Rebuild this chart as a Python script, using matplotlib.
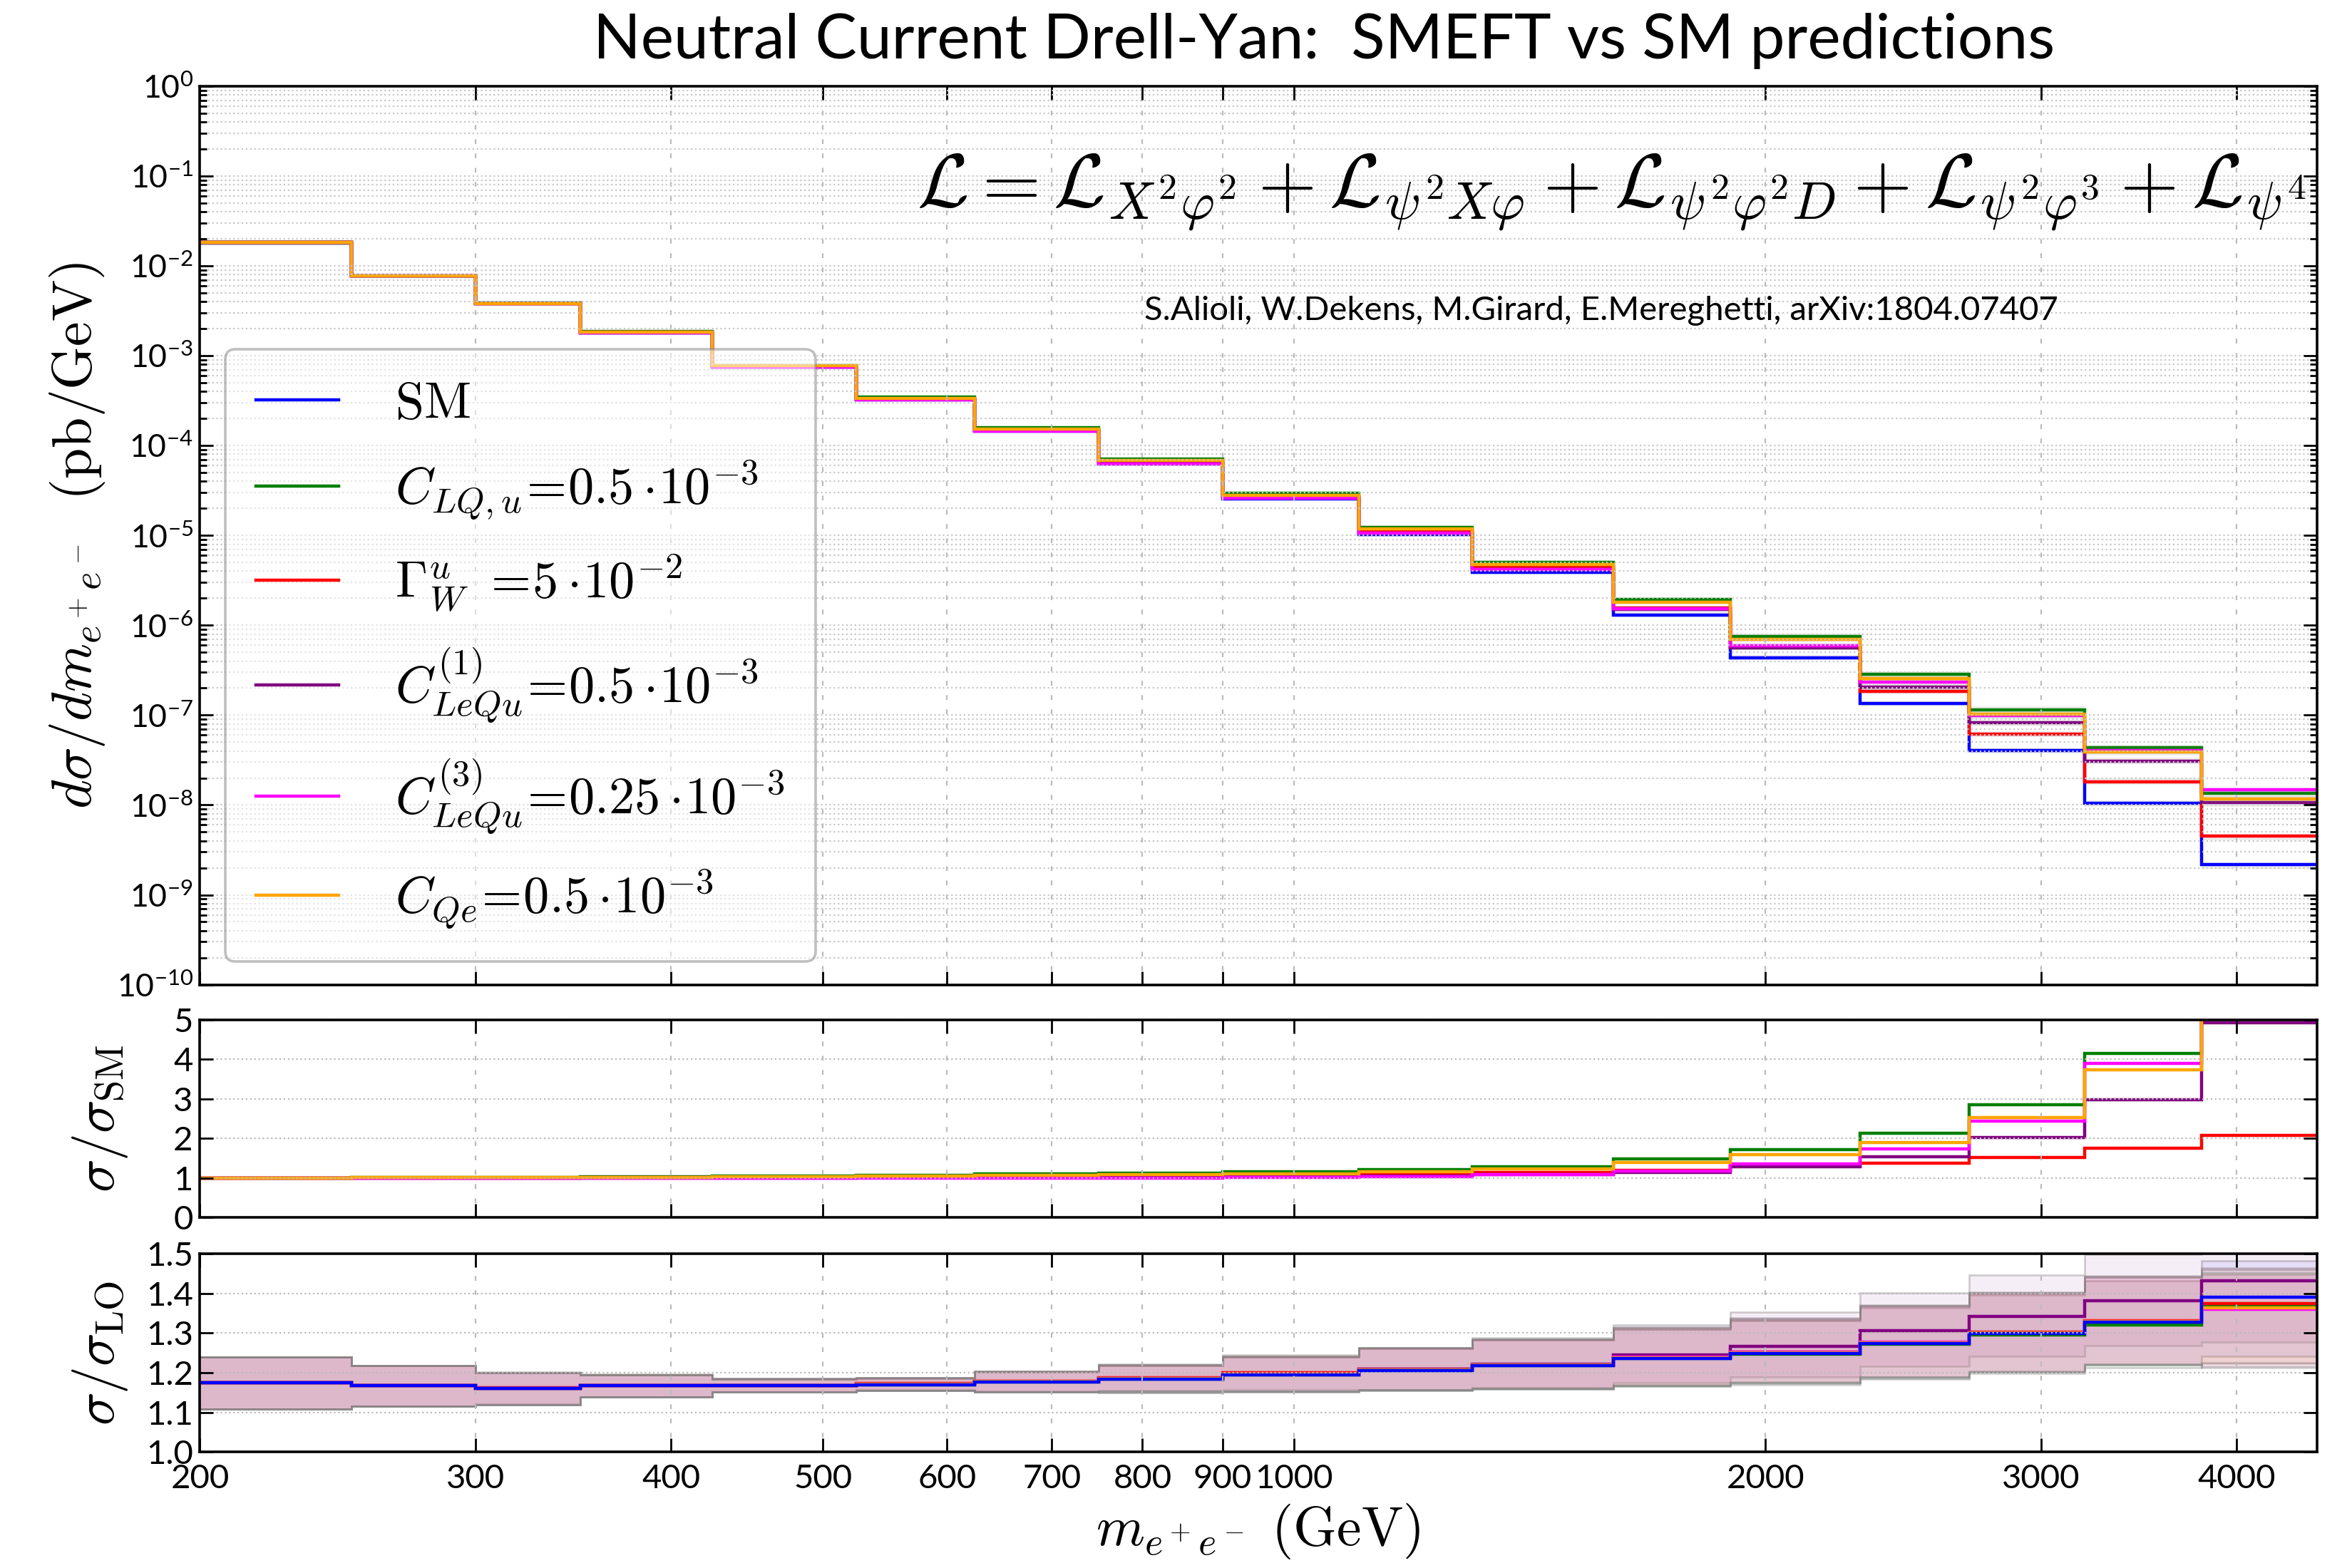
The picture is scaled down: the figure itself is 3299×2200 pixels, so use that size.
import matplotlib
matplotlib.use('Agg')
import matplotlib.pyplot as plt
import numpy as np
from matplotlib.ticker import FuncFormatter, LogLocator, FixedLocator, NullLocator, NullFormatter

plt.rcParams['font.family'] = ['Lato', 'DejaVu Sans']
plt.rcParams['mathtext.fontset'] = 'cm'

# bin edges in m_ee (GeV)
edges = [200, 250, 300, 350, 425, 525, 625, 750, 900, 1100, 1300, 1600, 1900, 2300, 2700, 3200, 3800, 4500]

# SM cross section, pb/GeV
sm_xsec = [1.82e-2, 7.7e-3, 3.8e-3, 1.8e-3, 7.5e-4, 3.25e-4, 1.45e-4, 6.3e-5, 2.56e-5,
           1.02e-5, 3.87e-6, 1.31e-6, 4.38e-7, 1.34e-7, 4.05e-8, 1.04e-8, 2.17e-9]

# sigma / sigma_SM
ratio_sm = [1.0] * 17
ratio_lqu = [1.00, 1.01, 1.02, 1.03, 1.04, 1.07, 1.10, 1.12, 1.15, 1.21, 1.29, 1.48, 1.72, 2.13, 2.85, 4.15, 6.2]
ratio_gw = [1.00, 1.00, 1.00, 1.01, 1.01, 1.02, 1.03, 1.04, 1.06, 1.09, 1.14, 1.19, 1.30, 1.37, 1.52, 1.75, 2.08]
ratio_lequ1 = [1.00, 1.00, 1.00, 1.00, 1.00, 1.01, 1.01, 1.02, 1.03, 1.05, 1.09, 1.14, 1.28, 1.53, 2.02, 2.98, 4.93]
ratio_lequ3 = [1.00, 1.00, 1.00, 1.00, 1.00, 1.00, 1.00, 1.00, 1.02, 1.035, 1.08, 1.18, 1.36, 1.73, 2.43, 3.90, 6.8]
ratio_qe = [1.00, 1.01, 1.01, 1.02, 1.03, 1.04, 1.06, 1.08, 1.10, 1.16, 1.23, 1.39, 1.59, 1.90, 2.52, 3.73, 5.4]

# sigma / sigma_LO (NLO K-factors)
kfac_sm = [1.175, 1.168, 1.161, 1.167, 1.167, 1.170, 1.177, 1.183, 1.195, 1.205, 1.218, 1.235, 1.248, 1.273, 1.299, 1.328, 1.391]
kfac_lqu = [1.175, 1.168, 1.161, 1.167, 1.167, 1.170, 1.177, 1.183, 1.195, 1.205, 1.218, 1.235, 1.246, 1.271, 1.295, 1.321, 1.370]
kfac_gw = [1.175, 1.168, 1.162, 1.168, 1.168, 1.172, 1.179, 1.188, 1.200, 1.208, 1.220, 1.238, 1.251, 1.276, 1.302, 1.331, 1.374]
kfac_lequ1 = [1.175, 1.168, 1.161, 1.167, 1.168, 1.171, 1.178, 1.185, 1.197, 1.208, 1.222, 1.245, 1.266, 1.305, 1.342, 1.381, 1.431]
kfac_lequ3 = [1.175, 1.168, 1.161, 1.167, 1.168, 1.171, 1.178, 1.186, 1.197, 1.207, 1.220, 1.240, 1.252, 1.277, 1.300, 1.330, 1.359]
kfac_qe = [1.175, 1.168, 1.161, 1.167, 1.167, 1.171, 1.178, 1.186, 1.197, 1.207, 1.220, 1.238, 1.250, 1.276, 1.300, 1.329, 1.363]

# scale uncertainty band of the SM K-factor
kband_hi = [1.239, 1.218, 1.200, 1.195, 1.184, 1.186, 1.202, 1.217, 1.239, 1.260, 1.283, 1.310, 1.333, 1.366, 1.400, 1.440, 1.482]
kband_lo = [1.108, 1.116, 1.119, 1.138, 1.151, 1.154, 1.151, 1.150, 1.152, 1.154, 1.159, 1.165, 1.172, 1.186, 1.201, 1.219, 1.241]

labels = [r'$\mathrm{SM}$',
          r'$C_{LQ,u}\!=\!0.5\cdot\!10^{-3}$',
          r'$\Gamma^{u}_{W}\ =\!5\cdot\!10^{-2}$',
          r'$C^{(1)}_{LeQu}\!=\!0.5\cdot\!10^{-3}$',
          r'$C^{(3)}_{LeQu}\!=\!0.25\cdot\!10^{-3}$',
          r'$C_{Qe}\!=\!0.5\cdot\!10^{-3}$']
colors = ['blue', 'green', 'red', 'purple', 'magenta', 'orange']
ratios = [ratio_sm, ratio_lqu, ratio_gw, ratio_lequ1, ratio_lequ3, ratio_qe]
kfacs = [kfac_sm, kfac_lqu, kfac_gw, kfac_lequ1, kfac_lequ3, kfac_qe]

sm = np.array(sm_xsec)
rel_hi = np.array(kband_hi) / np.array(kfac_sm)
rel_lo = np.array(kband_lo) / np.array(kfac_sm)

fig = plt.figure(figsize=(16.495, 11), dpi=200)
ax1 = fig.add_axes([0.085, 0.372, 0.9, 0.573])
ax2 = fig.add_axes([0.085, 0.2236, 0.9, 0.1259], sharex=ax1)
ax3 = fig.add_axes([0.085, 0.074, 0.9, 0.1265], sharex=ax1)

# top: differential cross sections
for r, c, lab in zip(ratios, colors, labels):
    v = sm * np.array(r)
    ax1.stairs(v * rel_hi, edges, baseline=v * rel_lo, fill=True, color='gray', alpha=0.15, lw=0)
    ax1.stairs(v, edges, baseline=None, color=c, lw=1.6, label=lab)

# middle: ratio to SM (SM itself not drawn)
for r, c in zip(ratios[1:], colors[1:]):
    ax2.stairs(r, edges, baseline=None, color=c, lw=1.6)

# bottom: ratio to LO, with scale bands
for k, c in zip(kfacs, colors):
    k = np.array(k)
    ax3.stairs(k * rel_hi, edges, baseline=k * rel_lo, fill=True, color=c, alpha=0.065, lw=0)
    ax3.stairs(k * rel_hi, edges, baseline=None, color='gray', alpha=0.35, lw=1)
    ax3.stairs(k * rel_lo, edges, baseline=None, color='gray', alpha=0.35, lw=1)
for k, c in list(zip(kfacs, colors))[1:] + [(kfacs[0], colors[0])]:
    ax3.stairs(k, edges, baseline=None, color=c, lw=1.6)

xt = [200, 300, 400, 500, 600, 700, 800, 900, 1000, 2000, 3000, 4000]
for ax in (ax1, ax2, ax3):
    ax.set_xscale('log')
    ax.set_xlim(200, 4500)
    ax.xaxis.set_major_locator(FixedLocator(xt))
    ax.xaxis.set_minor_locator(NullLocator())
    ax.xaxis.set_minor_formatter(NullFormatter())
    ax.tick_params(which='both', direction='in', top=True, right=True, width=1)
    ax.tick_params(which='major', length=7)
    ax.tick_params(which='minor', length=3.5)
    ax.grid(True, axis='x', which='major', color='#bbbbbb', ls=(0, (3, 6)), lw=0.8)
    for s in ax.spines.values():
        s.set_linewidth(1.3)

ax1.set_yscale('log')
ax1.set_ylim(1e-10, 1)
ax1.yaxis.set_major_locator(LogLocator(base=10, numticks=20))
ax1.yaxis.set_minor_locator(LogLocator(base=10, subs=np.arange(2, 10), numticks=20))
ax1.yaxis.set_major_formatter(FuncFormatter(lambda v, p: r'$\mathregular{10^{%d}}$' % int(round(np.log10(v)))))
ax1.grid(True, axis='y', which='both', color='#c8c8c8', ls=':', lw=0.8)
ax1.tick_params(axis='y', labelsize=16)
plt.setp(ax1.get_xticklabels(), visible=False)

ax2.set_ylim(0, 5)
ax2.set_yticks([0, 1, 2, 3, 4, 5])
ax2.grid(True, axis='y', color='#bbbbbb', ls=':', lw=0.8)
ax2.tick_params(axis='y', labelsize=17)
plt.setp(ax2.get_xticklabels(), visible=False)

ax3.set_ylim(1.0, 1.5)
ax3.set_yticks([1.0, 1.1, 1.2, 1.3, 1.4, 1.5])
ax3.set_yticklabels(['1.0', '1.1', '1.2', '1.3', '1.4', '1.5'])
ax3.grid(True, axis='y', color='#bbbbbb', ls=':', lw=0.8)
ax3.tick_params(axis='y', labelsize=17)
ax3.set_xticklabels([str(t) for t in xt])
ax3.tick_params(axis='x', labelsize=17, pad=6)

ax1.set_ylabel(r'$d\sigma/dm_{e^+e^-}\ \ \mathrm{(pb/GeV)}$', fontsize=28)
ax1.yaxis.set_label_coords(-0.044, 0.5)
ax2.set_ylabel(r'$\sigma/\sigma_{\mathrm{SM}}$', fontsize=28)
ax2.yaxis.set_label_coords(-0.033, 0.5)
ax3.set_ylabel(r'$\sigma/\sigma_{\mathrm{LO}}$', fontsize=28)
ax3.yaxis.set_label_coords(-0.033, 0.5)
ax3.set_xlabel(r'$m_{e^+e^-}\ \mathrm{(GeV)}$', fontsize=28)
ax3.xaxis.set_label_coords(0.5, -0.25)

leg = ax1.legend(loc='upper left', bbox_to_anchor=(0.012, 0.707), borderaxespad=0,
                 fontsize=26, handlelength=1.6, handletextpad=1.1, labelspacing=0.62,
                 borderpad=0.6, fancybox=True, framealpha=0.5, edgecolor='gray')
leg.get_frame().set_linewidth(1.3)
for l in leg.get_lines():
    l.set_linewidth(1.6)

ax1.text(0.995, 0.882,
         r'$\mathcal{L} = \mathcal{L}_{X^2\varphi^2} + \mathcal{L}_{\psi^2 X\varphi} + '
         r'\mathcal{L}_{\psi^2\varphi^2 D} + \mathcal{L}_{\psi^2\varphi^3} + \mathcal{L}_{\psi^4}$',
         transform=ax1.transAxes, ha='right', va='center', fontsize=38)
ax1.text(0.662, 0.750, 'S.Alioli, W.Dekens, M.Girard, E.Mereghetti, arXiv:1804.07407',
         transform=ax1.transAxes, ha='center', va='center', fontsize=17)

fig.text(0.563, 0.974, 'Neutral Current Drell-Yan:  SMEFT vs SM predictions',
         ha='center', va='center', fontsize=31.5)

fig.savefig('out.png', dpi=200)
